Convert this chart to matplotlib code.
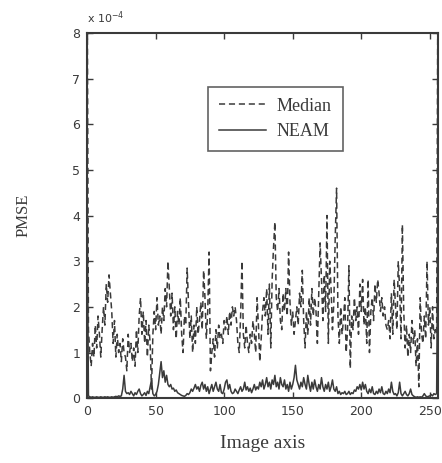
# Gráfico de linhas: PMSE ao longo do eixo da imagem (Median x NEAM)
import matplotlib.pyplot as plt

# Dados (valores em unidades de 1e-4), um valor por posição 0..256
median = [
    10.0, 1.5, 1.0, 0.7, 1.2, 0.9, 1.6, 1.1, 1.8, 1.4,
    0.9, 1.5, 2.0, 1.6, 2.5, 2.1, 2.7, 2.3, 1.9, 1.2,
    1.7, 0.9, 1.4, 1.0, 1.2, 0.8, 1.3, 1.0, 0.9, 0.6,
    1.4, 1.0, 1.2, 0.8, 1.1, 0.7, 1.5, 1.0, 1.8, 2.2,
    1.4, 1.9, 1.2, 1.7, 0.9, 1.6, 1.2, 0.2, 1.4, 1.9,
    1.5, 2.2, 1.6, 1.8, 1.4, 2.0, 1.7, 2.4, 2.0, 3.0,
    2.4, 1.8, 2.3, 1.5, 2.0, 1.3, 1.9, 1.6, 2.2, 1.4,
    1.0, 1.8, 1.6, 2.85, 2.1, 1.3, 1.8, 1.0, 1.6, 1.2,
    2.0, 1.4, 1.7, 2.1, 1.5, 2.8, 2.2, 1.3, 1.9, 3.2,
    0.6, 1.0, 1.3, 0.9, 1.5, 1.1, 1.6, 1.3, 1.4, 1.2,
    1.7, 1.5, 1.8, 1.4, 1.9, 1.6, 2.0, 1.8, 2.0, 1.7,
    1.2, 1.0, 1.8, 3.0, 1.4, 1.1, 1.6, 1.2, 1.0, 1.4,
    1.2, 1.7, 1.4, 1.0, 2.2, 1.6, 0.8, 1.3, 1.9, 2.2,
    1.8, 2.4, 1.4, 2.5, 1.1, 2.6, 3.3, 3.86, 2.2, 1.9,
    2.4, 1.7, 1.5, 2.3, 1.9, 2.4, 1.8, 3.2, 2.1, 1.6,
    1.9, 1.4, 1.7, 2.0, 1.6, 2.3, 2.0, 2.8, 1.7, 1.1,
    1.9, 1.4, 2.2, 1.6, 2.4, 1.8, 2.2, 1.9, 1.2, 2.3,
    3.4, 2.6, 1.7, 2.7, 1.9, 4.0, 1.2, 3.0, 2.4, 1.5,
    2.1, 3.5, 4.6, 1.8, 1.2, 2.0, 1.4, 1.7, 2.2, 1.0,
    1.5, 2.9, 0.65, 1.8, 1.5, 2.2, 1.7, 2.0, 1.4, 2.5,
    1.9, 2.6, 1.6, 2.0, 1.2, 2.6, 1.0, 1.9, 2.2, 1.7,
    2.5, 2.1, 2.6, 2.3, 1.9, 2.2, 1.8, 2.0, 1.6, 1.5,
    1.7, 1.3, 2.3, 1.4, 2.6, 2.0, 1.5, 3.0, 2.4, 1.3,
    3.8, 1.9, 1.1, 1.6, 0.9, 1.4, 1.0, 1.7, 1.2, 1.5,
    0.7, 1.3, 0.25, 2.2, 1.4, 1.2, 1.8, 1.3, 3.0, 1.6,
    2.0, 1.1, 2.0, 1.3, 1.5, 1.4, 10.0,
]
neam = [
    4.8, 0.05, 0.03, 0.02, 0.03, 0.02, 0.02, 0.03, 0.02, 0.02,
    0.03, 0.02, 0.02, 0.03, 0.02, 0.03, 0.02, 0.02, 0.03, 0.02,
    0.03, 0.04, 0.03, 0.05, 0.04, 0.05, 0.2, 0.5, 0.15, 0.1,
    0.12, 0.08, 0.15, 0.1, 0.05, 0.12, 0.08, 0.15, 0.2, 0.1,
    0.05, 0.08, 0.12, 0.06, 0.15, 0.1, 0.25, 0.4, 0.1, 0.05,
    0.08, 0.15, 0.3, 0.55, 0.8, 0.45, 0.6, 0.35, 0.5, 0.3,
    0.25, 0.3, 0.2, 0.22, 0.15, 0.18, 0.12, 0.1, 0.08, 0.06,
    0.05, 0.04, 0.06, 0.1, 0.08, 0.12, 0.2, 0.15, 0.22, 0.3,
    0.2, 0.25, 0.15, 0.28, 0.35, 0.2, 0.3, 0.15, 0.25, 0.1,
    0.2, 0.3, 0.15, 0.25, 0.35, 0.2, 0.15, 0.3, 0.12, 0.1,
    0.2, 0.35, 0.4, 0.2, 0.3, 0.15, 0.1, 0.12, 0.2, 0.15,
    0.1, 0.18, 0.25, 0.15, 0.2, 0.35, 0.18, 0.25, 0.15, 0.22,
    0.12, 0.2, 0.3, 0.18, 0.25, 0.2, 0.35, 0.25, 0.4, 0.2,
    0.3, 0.45, 0.25, 0.35, 0.2, 0.4, 0.3, 0.5, 0.25, 0.35,
    0.2, 0.45, 0.3, 0.25, 0.4, 0.2, 0.3, 0.15, 0.35, 0.2,
    0.3, 0.45, 0.72, 0.4, 0.3, 0.2, 0.35, 0.25, 0.45, 0.3,
    0.2, 0.5, 0.3, 0.15, 0.35, 0.2, 0.4, 0.25, 0.15, 0.3,
    0.2, 0.45, 0.25, 0.15, 0.3, 0.2, 0.35, 0.15, 0.25, 0.4,
    0.2, 0.15, 0.25, 0.1, 0.15, 0.08, 0.12, 0.1, 0.15, 0.08,
    0.1, 0.15, 0.08, 0.12, 0.1, 0.18, 0.15, 0.25, 0.2, 0.3,
    0.18, 0.35, 0.2, 0.3, 0.15, 0.1, 0.2, 0.12, 0.25, 0.1,
    0.08, 0.15, 0.1, 0.2, 0.12, 0.25, 0.1, 0.08, 0.15, 0.1,
    0.2, 0.12, 0.35, 0.15, 0.08, 0.1, 0.05, 0.12, 0.35, 0.1,
    0.05, 0.1, 0.15, 0.08, 0.05, 0.1, 0.2, 0.08, 0.05, 0.03,
    0.02, 0.03, 0.02, 0.03, 0.02, 0.05, 0.1, 0.05, 0.03, 0.04,
    0.05, 0.08, 0.05, 0.1, 0.08, 0.1, 4.5,
]
x = list(range(len(median)))

xticks = [0, 50, 100, 150, 200, 250]
yticks = [0, 1, 2, 3, 4, 5, 6, 7, 8]

cor = "#3a3a3a"
serif = ["Liberation Serif", "DejaVu Serif"]
narrow = ["Liberation Sans Narrow", "DejaVu Sans"]

fig = plt.figure(figsize=(4.42, 4.63), dpi=100)
ax = fig.add_axes([0.197, 0.140, 0.794, 0.789])

# Linhas
ax.plot(x, median, color=cor, linestyle=(0, (4, 2.5)), linewidth=1.1, label="Median")
ax.plot(x, neam, color=cor, linestyle="-", linewidth=1.1, label="NEAM")

ax.set_xlim(0, 256)
ax.set_ylim(0, 8)
ax.set_xticks(xticks)
ax.set_yticks(yticks)
ax.set_xticklabels([str(t) for t in xticks], family=narrow, fontsize=9, color=cor)
ax.set_yticklabels([str(t) for t in yticks], family=narrow, fontsize=9, color=cor)
ax.tick_params(direction="in", top=True, right=True, length=4, width=1, color=cor, pad=5)
for s in ax.spines.values():
    s.set_linewidth(1.5)
    s.set_color(cor)

# Multiplicador do eixo y
ax.text(0.0, 1.02, "x 10$^{-4}$", transform=ax.transAxes, fontsize=8,
        family=narrow, color=cor, ha="left", va="bottom")

# Rótulos
ax.set_xlabel("Image axis", family=serif, fontsize=14, color=cor, labelpad=12)
ax.set_ylabel("PMSE", family=serif, fontsize=12, color=cor, labelpad=29)

# Legenda
leg = ax.legend(loc="upper left", bbox_to_anchor=(0.345, 0.852), borderaxespad=0,
                prop={"family": serif, "size": 13},
                frameon=True, fancybox=False, edgecolor=cor, handlelength=2.6,
                borderpad=0.6, labelspacing=0.45, handletextpad=0.6)
leg.get_frame().set_linewidth(1.2)
for t in leg.get_texts():
    t.set_color(cor)

plt.savefig("out.png", dpi=100)
